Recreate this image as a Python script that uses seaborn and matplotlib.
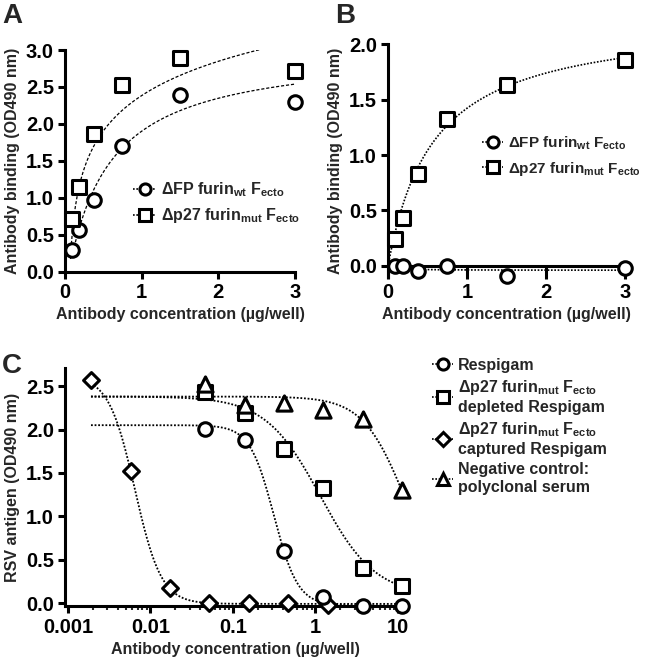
import numpy as np
import pandas as pd
import matplotlib
matplotlib.use("Agg")
import matplotlib.pyplot as plt
import seaborn as sns
from matplotlib.lines import Line2D
from matplotlib.ticker import FuncFormatter, LogLocator, NullFormatter, MultipleLocator

# ---- data ----
# panels A and B: antibody concentration (ug/well)
conc_ab = [0.09375, 0.1875, 0.375, 0.75, 1.5, 3.0]
a_wt = [0.30, 0.57, 0.97, 1.70, 2.39, 2.29]
a_mut = [0.72, 1.15, 1.87, 2.52, 2.89, 2.72]
b_wt = [0.00, 0.00, -0.05, 0.00, -0.09, -0.02]
b_mut = [0.24, 0.43, 0.83, 1.33, 1.63, 1.86]

# panel C
conc_c = [0.0463, 0.139, 0.417, 1.25, 3.75, 11.25]
conc_capt = [0.00192, 0.00576, 0.0173, 0.0519, 0.156, 0.467, 1.40]
respigam = [2.01, 1.88, 0.60, 0.07, -0.03, -0.03]
depleted = [2.43, 2.19, 1.77, 1.33, 0.40, 0.20]
captured = [2.57, 1.52, 0.17, 0.0, 0.0, 0.0, -0.02]
negative = [2.53, 2.28, 2.31, 2.23, 2.12, 1.30]

# fitted curve parameters (estimated from the drawn fits)
fit_a_mut = (2.41, 0.65, 0.04)          # a + b*ln(x - c)
fit_a_wt = (3.02, 0.559, 0.05)          # Bmax, Kd, shift
fit_b_mut = (2.24, 0.574)               # Bmax, Kd
fit_b_wt = (-0.04, 0.10)
fit_c = {  # top, bottom, IC50, hill
    "resp": (2.05, -0.03, 0.313, 2.98),
    "depl": (2.38, 0.08, 1.15, 1.3),
    "capt": (2.62, -0.01, 0.00649, 2.72),
    "neg": (2.38, 0.0, 12.4, 1.68),
}

sns.set_style("ticks")
plt.rcParams["font.family"] = ["Liberation Sans", "DejaVu Sans"]
plt.rcParams["font.weight"] = "bold"
plt.rcParams["axes.labelweight"] = "bold"
plt.rcParams["mathtext.fontset"] = "custom"
plt.rcParams["mathtext.bf"] = "Liberation Sans:bold"
plt.rcParams["mathtext.rm"] = "Liberation Sans:bold"

fig = plt.figure(figsize=(6.5, 6.59), dpi=100)
axA = fig.add_axes([0.1, 0.5877, 0.3538, 0.3364])
axB = fig.add_axes([0.597, 0.5797, 0.3646, 0.3531])
axC = fig.add_axes([0.1, 0.0797, 0.523, 0.362])

LW = 2.2
dot = (0, (1, 1))
dash = (0, (2.5, 1.5))
mk = dict(facecolor="white", edgecolor="black", linewidth=2.2, zorder=5, clip_on=False)


def style(ax):
    for s in ["top", "right"]:
        ax.spines[s].set_visible(False)
    for s in ["left", "bottom"]:
        ax.spines[s].set_linewidth(LW)
        ax.spines[s].set_color("black")
    ax.tick_params(width=LW, length=5, labelsize=14.5, colors="black", direction="out", pad=3)
    for lab in ax.get_xticklabels() + ax.get_yticklabels():
        lab.set_fontweight("bold")


lab_wt = r"ΔFP furin$_{\mathbf{wt}}$ F$_{\mathbf{ecto}}$"
lab_mut = r"Δp27 furin$_{\mathbf{mut}}$ F$_{\mathbf{ecto}}$"


def handle(m, ms=8):
    return Line2D([], [], color="black", ls=dot, lw=1.2, marker=m, markersize=ms,
                  markerfacecolor="white", markeredgecolor="black", markeredgewidth=2.2)


# ---- panel A ----
xa1 = np.linspace(0.072, 2.57, 200)
a, b, c = fit_a_mut
sns.lineplot(x=xa1, y=a + b * np.log(xa1 - c), ax=axA, color="black", lw=0.9, ls=dash)
xa2 = np.linspace(0.09, 3.0, 200)
bm, kd, sh = fit_a_wt
sns.lineplot(x=xa2, y=bm * (xa2 - sh) / (kd + xa2 - sh), ax=axA, color="black", lw=0.9, ls=dash)
sns.scatterplot(x=conc_ab, y=a_wt, ax=axA, marker="o", s=95, **mk)
sns.scatterplot(x=conc_ab, y=a_mut, ax=axA, marker="s", s=110, **mk)
axA.set_xlim(0, 3.0)
axA.set_ylim(0, 3.0)
axA.set_xticks([0, 1, 2, 3])
axA.yaxis.set_major_locator(MultipleLocator(0.5))
axA.yaxis.set_major_formatter(FuncFormatter(lambda v, p: f"{v:.1f}"))
axA.set_xlabel("Antibody concentration (µg/well)", fontsize=11.5, fontweight="bold", labelpad=4)
axA.set_ylabel("Antibody binding (OD490 nm)", fontsize=11.5, fontweight="bold", labelpad=4)
style(axA)
axA.legend([handle("o"), handle("s")], [lab_wt, lab_mut], loc="center left",
           bbox_to_anchor=(0.27, 0.31), frameon=False, fontsize=11.5, handlelength=1.4,
           handletextpad=0.3, labelspacing=0.45, borderaxespad=0)

# ---- panel B ----
xb = np.linspace(0.0, 3.0, 200)
bm, kd = fit_b_mut
sns.lineplot(x=xb, y=bm * xb / (kd + xb), ax=axB, color="black", lw=1.2, ls=dot)
bm, kd = fit_b_wt
sns.lineplot(x=xb, y=bm * xb / (kd + xb), ax=axB, color="black", lw=1.2, ls=dot)
sns.scatterplot(x=conc_ab, y=b_wt, ax=axB, marker="o", s=95, **mk)
sns.scatterplot(x=conc_ab, y=b_mut, ax=axB, marker="s", s=110, **mk)
axB.set_xlim(0, 3.0)
axB.set_ylim(-0.1, 2.0)
axB.set_xticks([0, 1, 2, 3])
axB.yaxis.set_major_locator(MultipleLocator(0.5))
axB.yaxis.set_major_formatter(FuncFormatter(lambda v, p: f"{v:.1f}"))
axB.spines["bottom"].set_position(("data", 0))
axB.set_xlabel("Antibody concentration (µg/well)", fontsize=11.5, fontweight="bold", labelpad=4)
axB.set_ylabel("Antibody binding (OD490 nm)", fontsize=11.5, fontweight="bold", labelpad=4)
style(axB)
axB.tick_params(axis="x", length=9)
axB.legend([handle("o"), handle("s")], [lab_wt, lab_mut], loc="center left",
           bbox_to_anchor=(0.37, 0.52), frameon=False, fontsize=11, handlelength=1.4,
           handletextpad=0.3, labelspacing=0.5, borderaxespad=0)

# ---- panel C ----
xc = np.logspace(np.log10(0.0019), np.log10(11.25), 300)


def four_pl(x, p):
    top, bot, ic50, h = p
    return bot + (top - bot) / (1 + (x / ic50) ** h)


for key in ["neg", "depl", "resp", "capt"]:
    sns.lineplot(x=xc, y=four_pl(xc, fit_c[key]), ax=axC, color="black", lw=1.3, ls=dot)
sns.scatterplot(x=conc_capt, y=captured, ax=axC, marker="D", s=65, **mk)
sns.scatterplot(x=conc_c, y=respigam, ax=axC, marker="o", s=95, **mk)
sns.scatterplot(x=conc_c, y=depleted, ax=axC, marker="s", s=110, **mk)
sns.scatterplot(x=conc_c, y=negative, ax=axC, marker="^", s=120, **mk)
axC.set_xscale("log")
axC.set_xlim(0.00092, 12.15)
axC.set_ylim(-0.04, 2.71)
axC.xaxis.set_major_locator(LogLocator(base=10, numticks=10))
axC.xaxis.set_minor_locator(LogLocator(base=10, subs=np.arange(2, 10), numticks=20))
axC.xaxis.set_minor_formatter(NullFormatter())
axC.xaxis.set_major_formatter(FuncFormatter(lambda v, p: f"{v:g}"))
axC.yaxis.set_major_locator(MultipleLocator(0.5))
axC.yaxis.set_major_formatter(FuncFormatter(lambda v, p: f"{v:.1f}"))
axC.set_xlabel("Antibody concentration (µg/well)", fontsize=11.5, fontweight="bold", labelpad=4)
axC.set_ylabel("RSV antigen (OD490 nm)", fontsize=11.5, fontweight="bold", labelpad=4)
style(axC)
axC.tick_params(axis="x", which="minor", width=1.5, length=3)

labels_c = [
    "Respigam",
    "Δp27 furin$_{\\mathbf{mut}}$ F$_{\\mathbf{ecto}}$\ndepleted Respigam",
    "Δp27 furin$_{\\mathbf{mut}}$ F$_{\\mathbf{ecto}}$\ncaptured Respigam",
    "Negative control:\npolyclonal serum",
]
fig.legend([handle("o"), handle("s"), handle("D", 7), handle("^", 9)], labels_c,
           loc="upper left", bbox_to_anchor=(0.655, 0.467), frameon=False, fontsize=11.5,
           handlelength=1.3, handletextpad=0.3, labelspacing=0.35, borderaxespad=0)

# panel letters
fig.text(0.003, 0.995, "A", fontsize=20, fontweight="bold", va="top", ha="left")
fig.text(0.515, 0.995, "B", fontsize=20, fontweight="bold", va="top", ha="left")
fig.text(0.003, 0.465, "C", fontsize=20, fontweight="bold", va="top", ha="left")

fig.savefig("out.png", dpi=100)
